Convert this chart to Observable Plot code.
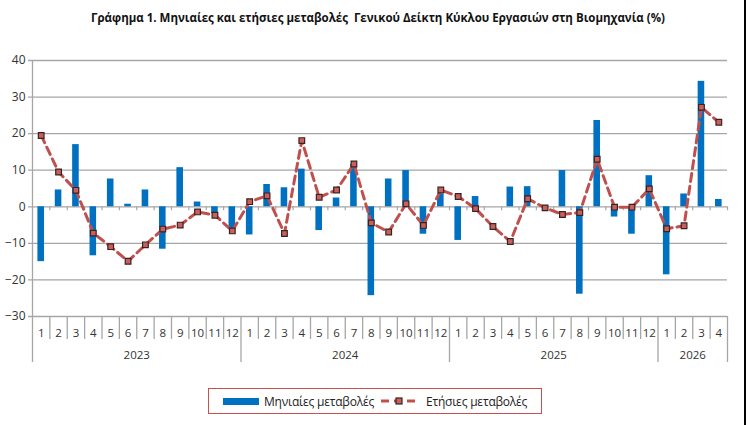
<!DOCTYPE html>
<html>
<head>
<meta charset="utf-8">
<script src="https://cdn.jsdelivr.net/npm/d3@7"></script>
<script src="https://cdn.jsdelivr.net/npm/@observablehq/plot@0.6"></script>
<style>
  body { margin: 0; background: #fff; }
  #wrap { position: relative; width: 750px; height: 425px; overflow: hidden; font-family: "Open Sans", sans-serif; background: #fff; }
  #title { position: absolute; left: 0; top: 10px; width: 756px; text-align: center; font-weight: bold; font-size: 11.5px; white-space: pre; color: #111; }
  #chart { position: absolute; left: 0; top: 40px; }
  #legend { position: absolute; left: 208px; top: 388px; width: 334px; height: 26px; box-sizing: border-box; border: 1.5px solid #c8504d; display: flex; align-items: center; font-size: 12px; letter-spacing: -0.2px; color: #222; white-space: nowrap; }
  #legend .sw { display: inline-block; width: 36px; height: 7px; background: #0070c0; margin-left: 14px; margin-right: 5px; flex: none; }
  #legend svg { margin-left: 6px; margin-right: 8px; flex: none; }
  #frame { position: absolute; left: 744px; top: 0; width: 2px; height: 425px; background: #000; }
</style>
</head>
<body>
<div id="wrap">
  <div id="title"></div>
  <div id="chart"></div>
  <div id="legend"></div>
  <div id="frame"></div>
</div>
<script>
const titleText = "Γράφημα 1. Μηνιαίες και ετήσιες μεταβολές  Γενικού Δείκτη Κύκλου Εργασιών στη Βιομηχανία (%)";
const seriesNames = ["Μηνιαίες μεταβολές", "Ετήσιες μεταβολές"];
const years = ["2023", "2024", "2025", "2026"];
const monthsPerYear = [12, 12, 12, 4];
const monthly = [
  -15.0, 4.6, 17.0, -13.4, 7.6, 0.7, 4.6, -11.6, 10.7, 1.3, -1.9, -6.0,
  -7.7, 6.1, 5.2, 10.3, -6.5, 2.4, 11.6, -24.3, 7.6, 9.9, -7.5, 3.5,
  -9.2, 2.8, 0.0, 5.4, 5.5, 0.0, 9.9, -23.9, 23.6, -2.8, -7.5, 8.5,
  -18.6, 3.5, 34.3, 2.0
];
const annual = [
  19.5, 9.5, 4.5, -7.2, -10.9, -14.9, -10.4, -6.1, -5.0, -1.4, -2.3, -6.6,
  1.4, 3.0, -7.3, 18.1, 2.6, 4.6, 11.7, -4.4, -6.9, 0.8, -5.1, 4.6,
  2.8, -0.5, -5.4, -9.5, 2.2, -0.3, -2.1, -1.6, 13.0, -0.1, -0.1, 4.9,
  -6.0, -5.2, 27.2, 23.1
];
const yTicks = [-30, -20, -10, 0, 10, 20, 30, 40];

const rows = [];
const yearBounds = [0];
const yearCenters = [];
let k = 0;
years.forEach((yr, yi) => {
  const start = k;
  for (let m = 1; m <= monthsPerYear[yi]; m++) {
    rows.push({i: k, year: yr, month: m, monthly: monthly[k], annual: annual[k]});
    k++;
  }
  yearBounds.push(k);
  yearCenters.push({pos: (start + k) / 2, label: yr});
});
const n = rows.length;
const monthBounds = d3.range(1, n).filter(b => !yearBounds.includes(b));

const grid = "#a6a6a6";
const blue = "#0070c0";
const red = "#c0504d";

document.getElementById("title").textContent = titleText;

const chart = Plot.plot({
  width: 750,
  height: 345,
  marginLeft: 32,
  marginRight: 23,
  marginTop: 20,
  marginBottom: 69,
  style: {fontFamily: "Open Sans, sans-serif", fontSize: "11.5px", color: "#333", background: "transparent"},
  x: {type: "linear", domain: [0, n], axis: null},
  y: {domain: [-30, 40], axis: null},
  marks: [
    Plot.ruleY(yTicks, {stroke: grid, strokeWidth: 1.3, insetLeft: -4}),
    Plot.ruleX([0], {y1: 40, y2: -30, insetBottom: -46, stroke: grid, strokeWidth: 1.3}),
    Plot.ruleX(d3.range(1, n + 1), {x: d => d, y1: 0, y2: 0, insetBottom: -4, stroke: grid, strokeWidth: 1.2}),
    Plot.ruleX(monthBounds, {x: d => d, y1: -30, y2: -30, insetBottom: -23, stroke: grid, strokeWidth: 1.3}),
    Plot.ruleX(yearBounds.slice(1), {x: d => d, y1: -30, y2: -30, insetBottom: -46, stroke: grid, strokeWidth: 1.3}),
    Plot.rect(rows, {x1: "i", x2: d => d.i + 1, y1: 0, y2: "monthly", fill: blue, insetLeft: 5.4, insetRight: 5.4}),
    Plot.line(rows, {x: d => d.i + 0.5, y: "annual", stroke: red, strokeWidth: 3, strokeDasharray: "8,5"}),
    Plot.dot(rows, {x: d => d.i + 0.5, y: "annual", symbol: "square", r: 3.2, fill: "#c9605c", stroke: "#3a2222", strokeWidth: 1.2}),
    Plot.axisY(yTicks, {tickSize: 0, tickPadding: 7, label: null, fontSize: 12, fill: "#333"}),
    Plot.axisX(rows.map(d => d.i + 0.5), {tickSize: 0, tickPadding: 12, label: null, tickFormat: d => String(rows[Math.floor(d)].month), fill: "#333"}),
    Plot.axisX(yearCenters.map(d => d.pos), {tickSize: 0, tickPadding: 34, label: null, tickFormat: d => yearCenters.find(c => c.pos === d).label, fill: "#333"})
  ]
});
document.getElementById("chart").appendChild(chart);

const legend = document.getElementById("legend");
legend.innerHTML =
  '<span class="sw"></span><span>' + seriesNames[0] + '</span>' +
  '<svg width="38" height="12"><line x1="1" y1="6" x2="37" y2="6" stroke="' + red + '" stroke-width="3" stroke-dasharray="8,5"/>' +
  '<rect x="16" y="3" width="6" height="6" fill="#c9605c" stroke="#3a2222" stroke-width="1.2"/></svg>' +
  '<span>' + seriesNames[1] + '</span>';
</script>
</body>
</html>
